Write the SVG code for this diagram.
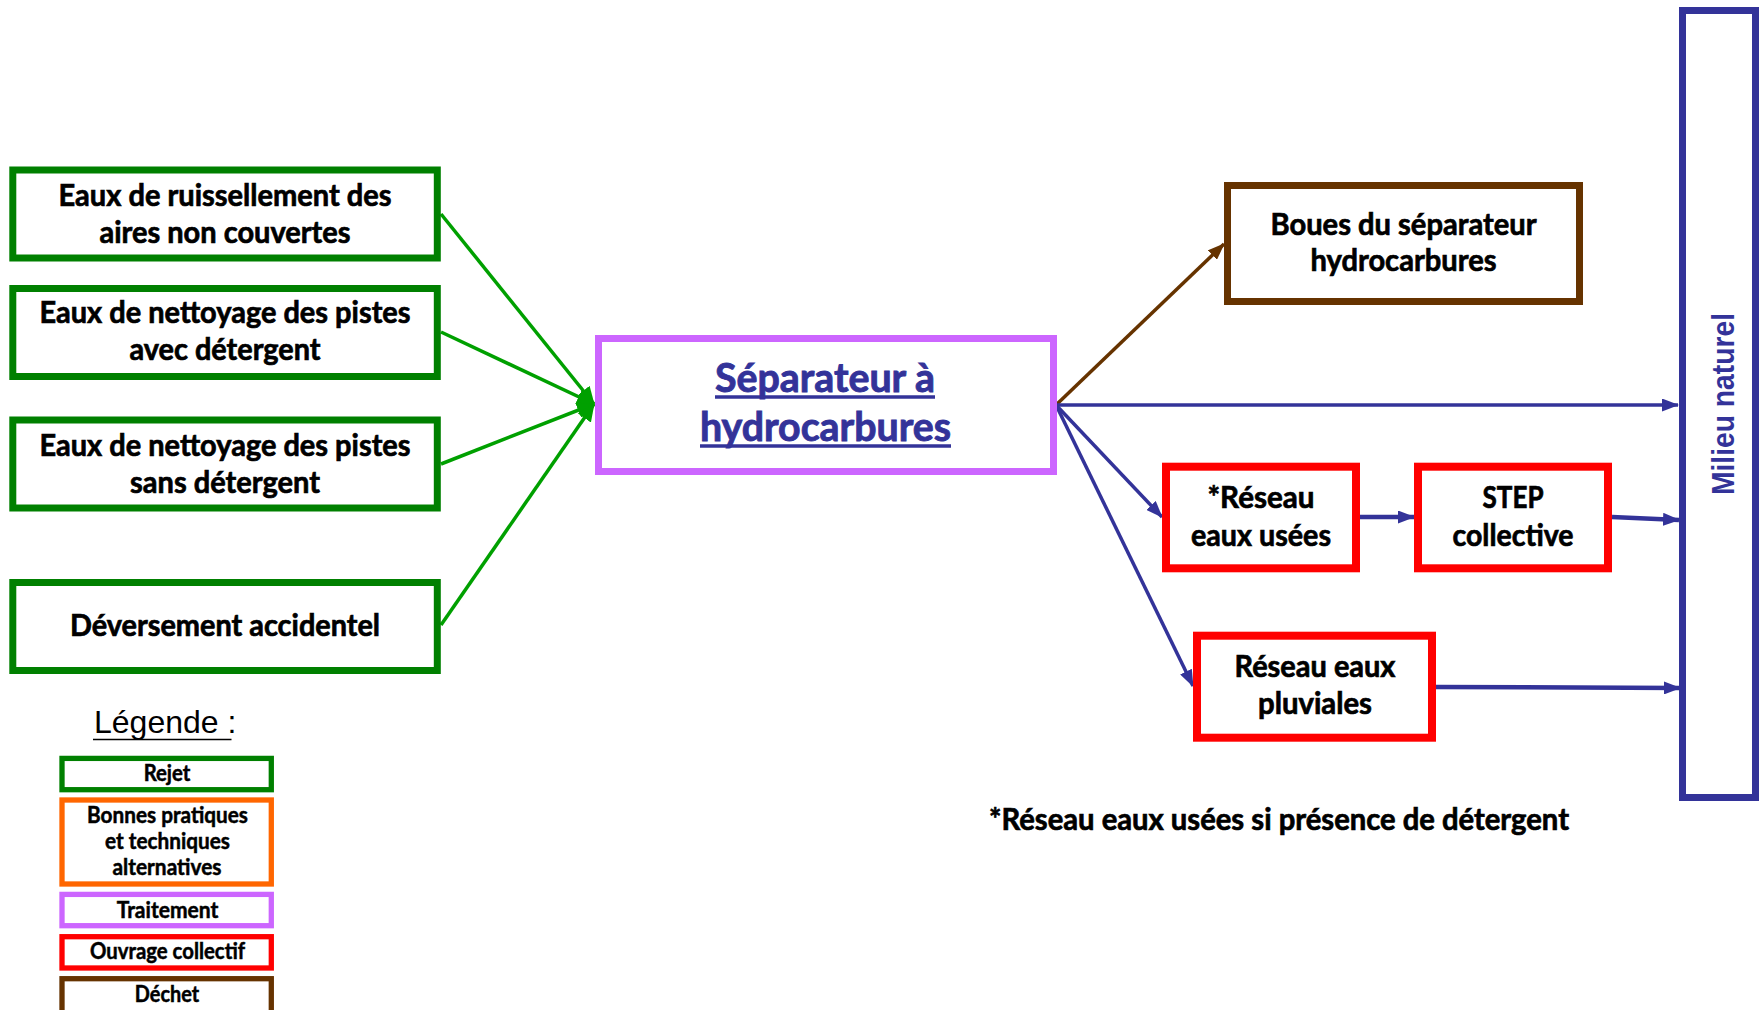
<svg xmlns="http://www.w3.org/2000/svg" width="1762" height="1010" viewBox="0 0 1762 1010">
<style>
.box{fill:#fff;}
.g{stroke:#008000;stroke-width:7;}
.p{stroke:#CC66FF;stroke-width:7;}
.b{stroke:#663300;stroke-width:7;}
.r{stroke:#FF0000;stroke-width:8;}
.m{stroke:#333399;stroke-width:7;}
.t{font-family:Lato,"Open Sans","Liberation Sans",sans-serif;font-weight:bold;font-size:31px;fill:#000;stroke:#000;stroke-width:0.7px;text-anchor:middle;}
.sep{font-size:40px;fill:#333399;stroke:#333399;stroke-width:0.9px;}
.lg{font-size:22px;stroke-width:0.5px;}
.mil{font-family:"Liberation Sans",Arial,sans-serif;font-weight:bold;font-size:31px;fill:#333399;text-anchor:middle;}
.leg{font-family:"Liberation Sans",Arial,sans-serif;font-size:32px;fill:#000;}
.cg{stroke:#00A000;stroke-width:3.5;fill:none;}
.cb{stroke:#333399;stroke-width:3.5;fill:none;}
.cbt{stroke:#333399;stroke-width:4.5;fill:none;}
.cbr{stroke:#663300;stroke-width:3.5;fill:none;}
.ul{stroke:#333399;stroke-width:3.5;}
</style>
<defs>
<marker id="ag" markerUnits="userSpaceOnUse" markerWidth="18" markerHeight="16" refX="17" refY="8" orient="auto"><path d="M0,0 L18,8 L0,16 z" fill="#00A000"/></marker>
<marker id="ab" markerUnits="userSpaceOnUse" markerWidth="17" markerHeight="13" refX="16" refY="6.5" orient="auto"><path d="M0,0 L17,6.5 L0,13 z" fill="#333399"/></marker>
<marker id="abr" markerUnits="userSpaceOnUse" markerWidth="17" markerHeight="13" refX="16" refY="6.5" orient="auto"><path d="M0,0 L17,6.5 L0,13 z" fill="#663300"/></marker>
</defs>
<rect width="1762" height="1010" fill="#fff"/>

<g id="connectors">
<line class="cg" x1="441" y1="214" x2="594" y2="404" marker-end="url(#ag)"/>
<line class="cg" x1="441" y1="332" x2="594" y2="404" marker-end="url(#ag)"/>
<line class="cg" x1="441" y1="464" x2="594" y2="404" marker-end="url(#ag)"/>
<line class="cg" x1="441" y1="625" x2="594" y2="404" marker-end="url(#ag)"/>
<line class="cbr" x1="1056" y1="405" x2="1224" y2="244" marker-end="url(#abr)"/>
<line class="cb" x1="1056" y1="405" x2="1678" y2="405" marker-end="url(#ab)"/>
<line class="cb" x1="1056" y1="405" x2="1162" y2="517" marker-end="url(#ab)"/>
<line class="cb" x1="1056" y1="405" x2="1193" y2="686" marker-end="url(#ab)"/>
<line class="cbt" x1="1360" y1="517" x2="1414" y2="517" marker-end="url(#ab)"/>
<line class="cbt" x1="1612" y1="517" x2="1679" y2="520" marker-end="url(#ab)"/>
<line class="cbt" x1="1436" y1="687" x2="1680" y2="688" marker-end="url(#ab)"/>
</g>

<g id="n1">
<rect class="box g" x="12.8" y="170" width="424.5" height="88"/>
<text class="t" x="225" y="206" textLength="333" lengthAdjust="spacingAndGlyphs">Eaux de ruissellement des</text>
<text class="t" x="225" y="242.7" textLength="251" lengthAdjust="spacingAndGlyphs">aires non couvertes</text>
</g>
<g id="n2">
<rect class="box g" x="12.8" y="288.5" width="424.5" height="88"/>
<text class="t" x="225" y="323" textLength="371" lengthAdjust="spacingAndGlyphs">Eaux de nettoyage des pistes</text>
<text class="t" x="225" y="360.4" textLength="191" lengthAdjust="spacingAndGlyphs">avec détergent</text>
</g>
<g id="n3">
<rect class="box g" x="12.8" y="420" width="424.5" height="88"/>
<text class="t" x="225" y="456" textLength="371" lengthAdjust="spacingAndGlyphs">Eaux de nettoyage des pistes</text>
<text class="t" x="225" y="493" textLength="190" lengthAdjust="spacingAndGlyphs">sans détergent</text>
</g>
<g id="n4">
<rect class="box g" x="12.8" y="582.5" width="424.5" height="88"/>
<text class="t" x="225" y="636" textLength="310" lengthAdjust="spacingAndGlyphs">Déversement accidentel</text>
</g>

<g id="separateur">
<rect class="box p" x="598.5" y="338.5" width="455" height="133"/>
<text class="t sep" x="825" y="391.7" textLength="220" lengthAdjust="spacingAndGlyphs">Séparateur à</text>
<text class="t sep" x="825.5" y="440.7" textLength="251" lengthAdjust="spacingAndGlyphs">hydrocarbures</text>
<line class="ul" x1="715" y1="397" x2="935" y2="397"/>
<line class="ul" x1="700" y1="446" x2="951" y2="446"/>
</g>

<g id="boues">
<rect class="box b" x="1227.5" y="185.5" width="352" height="116"/>
<text class="t" x="1403.5" y="235" textLength="266" lengthAdjust="spacingAndGlyphs">Boues du séparateur</text>
<text class="t" x="1403.5" y="271" textLength="186" lengthAdjust="spacingAndGlyphs">hydrocarbures</text>
</g>

<g id="reseau-usees">
<rect class="box r" x="1166" y="466.7" width="190" height="101.6"/>
<text class="t" x="1261" y="508.3" textLength="107" lengthAdjust="spacingAndGlyphs">*Réseau</text>
<text class="t" x="1261" y="546" textLength="140" lengthAdjust="spacingAndGlyphs">eaux usées</text>
</g>

<g id="step">
<rect class="box r" x="1418" y="466.7" width="190" height="101.6"/>
<text class="t" x="1513" y="508.3" textLength="61" lengthAdjust="spacingAndGlyphs">STEP</text>
<text class="t" x="1513" y="546" textLength="121" lengthAdjust="spacingAndGlyphs">collective</text>
</g>

<g id="reseau-pluviales">
<rect class="box r" x="1197" y="635.7" width="235" height="102"/>
<text class="t" x="1315" y="677.3" textLength="161" lengthAdjust="spacingAndGlyphs">Réseau eaux</text>
<text class="t" x="1315" y="714" textLength="114" lengthAdjust="spacingAndGlyphs">pluviales</text>
</g>

<g id="milieu">
<rect class="box m" x="1682.5" y="10.5" width="73" height="787" fill="none"/>
<text class="mil" transform="translate(1734,404) rotate(-90)" textLength="182" lengthAdjust="spacingAndGlyphs">Milieu naturel</text>
</g>

<g id="note">
<text class="t" x="1279" y="830" textLength="580" lengthAdjust="spacingAndGlyphs">*Réseau eaux usées si présence de détergent</text>
</g>

<g id="legende">
<text class="leg" x="94" y="733.3">Légende :</text>
<line x1="93" y1="739.5" x2="231.5" y2="739.5" stroke="#000" stroke-width="1.6"/>
<rect class="box" x="62" y="758.4" width="209.3" height="31.3" stroke="#008000" stroke-width="5.3"/>
<text class="t lg" x="167" y="780.7" textLength="46.7" lengthAdjust="spacingAndGlyphs">Rejet</text>
<rect class="box" x="62" y="800" width="209.3" height="84" stroke="#FF6600" stroke-width="5.3"/>
<text class="t lg" x="167.5" y="822.7" textLength="161" lengthAdjust="spacingAndGlyphs">Bonnes pratiques</text>
<text class="t lg" x="167.5" y="849.3" textLength="125" lengthAdjust="spacingAndGlyphs">et techniques</text>
<text class="t lg" x="167" y="875" textLength="109" lengthAdjust="spacingAndGlyphs">alternatives</text>
<rect class="box" x="62" y="894.4" width="209.3" height="31.3" stroke="#CC66FF" stroke-width="5.3"/>
<text class="t lg" x="167.5" y="917.7" textLength="101.7" lengthAdjust="spacingAndGlyphs">Traitement</text>
<rect class="box" x="62" y="936.7" width="209.3" height="31.3" stroke="#FF0000" stroke-width="5.3"/>
<text class="t lg" x="167.5" y="959.3" textLength="155" lengthAdjust="spacingAndGlyphs">Ouvrage collectif</text>
<rect class="box" x="62" y="978.7" width="209.3" height="34" stroke="#663300" stroke-width="5.3"/>
<text class="t lg" x="167" y="1001.7" textLength="64.3" lengthAdjust="spacingAndGlyphs">Déchet</text>
</g>
</svg>
